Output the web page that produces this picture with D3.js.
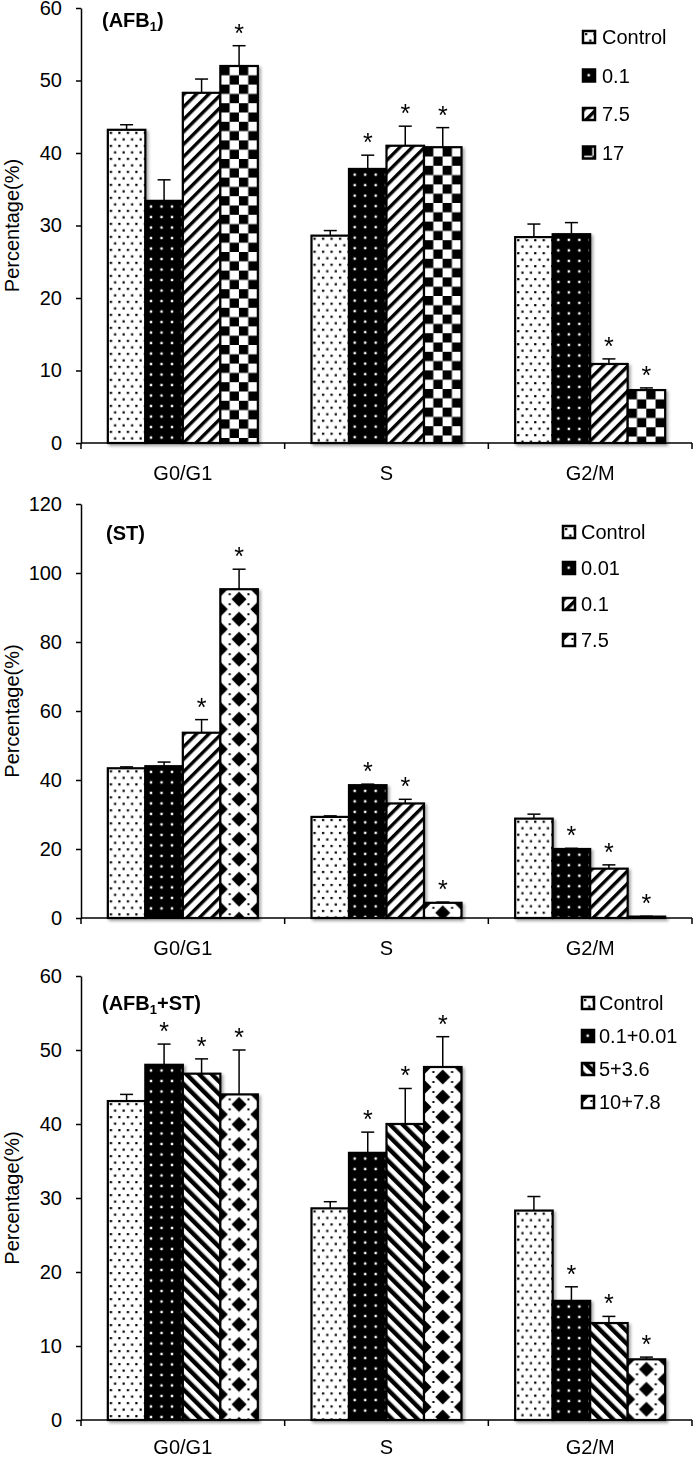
<!DOCTYPE html>
<html><head><meta charset="utf-8">
<script src="https://cdn.jsdelivr.net/npm/d3@7"></script>
<style>
body{margin:0;background:#fff}
svg{display:block}
text{font-family:"Liberation Sans",Arial,Helvetica,sans-serif;fill:#000}
</style>
</head><body>
<svg id="c" width="696" height="1458"></svg>
<script>
// ---------------- DATA ----------------
const categories = ["G0/G1", "S", "G2/M"];

const afbSeries = ["Control", "0.1", "7.5", "17"];
const afbValues = [[43.2, 33.4, 48.3, 52.0], [28.6, 37.8, 41.0, 40.8], [28.4, 28.8, 10.9, 7.3]];
const afbErrors = [[0.7, 2.9, 1.9, 2.8], [0.7, 1.9, 2.7, 2.7], [1.8, 1.6, 0.7, 0.3]];
const afbStars  = [[0, 0, 0, 1], [0, 1, 1, 1], [0, 0, 1, 1]];
const afbTicks  = [0, 10, 20, 30, 40, 50, 60];

const stSeries = ["Control", "0.01", "0.1", "7.5"];
const stValues = [[43.4, 44.0, 53.7, 95.3], [29.3, 38.5, 33.2, 4.4], [28.8, 20.0, 14.3, 0.4]];
const stErrors = [[0.4, 1.2, 3.8, 5.8], [0.3, 0.3, 1.2, 0.2], [1.3, 0.2, 1.1, 0.1]];
const stStars  = [[0, 0, 1, 1], [0, 1, 1, 1], [0, 1, 1, 1]];
const stTicks  = [0, 20, 40, 60, 80, 100, 120];

const mixSeries = ["Control", "0.1+0.01", "5+3.6", "10+7.8"];
const mixValues = [[43.1, 48.0, 46.8, 44.0], [28.6, 36.1, 40.0, 47.7], [28.3, 16.1, 13.1, 8.2]];
const mixErrors = [[0.9, 2.8, 2.0, 6.0], [0.9, 2.8, 4.8, 4.1], [1.9, 1.9, 0.9, 0.3]];
const mixStars  = [[0, 1, 1, 1], [0, 1, 1, 1], [0, 1, 1, 1]];
const mixTicks  = [0, 10, 20, 30, 40, 50, 60];

const yLabel = "Percentage(%)";

// ---------------- STYLE / LAYOUT ----------------
const svg = d3.select("#c");
const defs = svg.append("defs");

const f = defs.append("filter").attr("id", "shadow").attr("x", "-20%").attr("y", "-20%").attr("width", "150%").attr("height", "150%");
f.append("feDropShadow").attr("dx", 2).attr("dy", 2).attr("stdDeviation", 1.4)
  .attr("flood-color", "#000").attr("flood-opacity", 0.35);

function pat(id, w, h, build, transform) {
  const p = defs.append("pattern").attr("id", id).attr("patternUnits", "userSpaceOnUse")
    .attr("width", w).attr("height", h);
  if (transform) p.attr("patternTransform", transform);
  build(p);
}
pat("dots", 8.5, 13, p => {
  p.append("rect").attr("width", 8.5).attr("height", 13).attr("fill", "#fff");
  p.append("rect").attr("x", 2).attr("y", 2).attr("width", 2.2).attr("height", 2.2).attr("fill", "#000");
  p.append("rect").attr("x", 6.2).attr("y", 8.5).attr("width", 2.2).attr("height", 2.2).attr("fill", "#000");
});
pat("blackdots", 10.5, 10.5, p => {
  p.append("rect").attr("width", 10.5).attr("height", 10.5).attr("fill", "#000");
  p.append("rect").attr("x", 4.5).attr("y", 4.5).attr("width", 2.4).attr("height", 2.4).attr("fill", "#fff");
});
pat("diagUp", 8.8, 8.8, p => {
  p.append("rect").attr("width", 8.8).attr("height", 8.8).attr("fill", "#fff");
  p.append("rect").attr("x", 0).attr("width", 3.4).attr("height", 8.8).attr("fill", "#000");
}, "rotate(45)");
pat("diagDown", 9, 9, p => {
  p.append("rect").attr("width", 9).attr("height", 9).attr("fill", "#fff");
  p.append("rect").attr("x", 0).attr("width", 4.4).attr("height", 9).attr("fill", "#000");
}, "rotate(-45)");
pat("checker", 18.6, 18.6, p => {
  p.append("rect").attr("width", 18.6).attr("height", 18.6).attr("fill", "#fff");
  p.append("rect").attr("x", 0).attr("y", 0).attr("width", 9.3).attr("height", 9.3).attr("fill", "#000");
  p.append("rect").attr("x", 9.3).attr("y", 9.3).attr("width", 9.3).attr("height", 9.3).attr("fill", "#000");
});
pat("diamond", 37.5, 20, p => {
  p.append("rect").attr("width", 37.5).attr("height", 20).attr("fill", "#fff");
  const r = 7.5;
  const dia = (cx, cy) => `M${cx},${cy - r}L${cx + r},${cy}L${cx},${cy + r}L${cx - r},${cy}Z`;
  [[0, 0], [37.5, 0], [0, 20], [37.5, 20], [18.75, 10]].forEach(([cx, cy]) =>
    p.append("path").attr("d", dia(cx, cy)).attr("fill", "#000"));
  [[9.4, 5], [28.1, 5], [9.4, 15], [28.1, 15]].forEach(([cx, cy]) =>
    p.append("rect").attr("x", cx - 1).attr("y", cy - 1).attr("width", 2).attr("height", 2).attr("fill", "#000"));
});

const panels = [
  { title: ["(AFB", "1", ")"], series: afbSeries, values: afbValues, errors: afbErrors, stars: afbStars,
    ticks: afbTicks, top: 8, bottom: 443, titleX: 102, titleY: 27, labelDy: 37,
    patterns: ["dots", "blackdots", "diagUp", "checker"],
    leg: { sx: 583, tx: 602, y0: 37, dy: 38.5 } },
  { title: ["(ST)"], series: stSeries, values: stValues, errors: stErrors, stars: stStars,
    ticks: stTicks, top: 504, bottom: 918, titleX: 106, titleY: 540, labelDy: 37,
    patterns: ["dots", "blackdots", "diagUp", "diamond"],
    leg: { sx: 563, tx: 581, y0: 532, dy: 36 } },
  { title: ["(AFB", "1", "+ST)"], series: mixSeries, values: mixValues, errors: mixErrors, stars: mixStars,
    ticks: mixTicks, top: 976, bottom: 1420, titleX: 102, titleY: 1010, labelDy: 34,
    patterns: ["dots", "blackdots", "diagDown", "diamond"],
    leg: { sx: 582, tx: 599, y0: 1003, dy: 33 } }
];

const xLeft = 81, xRight = 692, groupW = 150;

panels.forEach(P => {
  const g = svg.append("g");
  const x0 = d3.scaleBand().domain(categories).range([xLeft, xRight]).padding(0);
  const x1 = d3.scaleBand().domain(P.series).range([0, groupW]).padding(0);
  const off = (x0.bandwidth() - groupW) / 2;
  const y = d3.scaleLinear().domain([0, d3.max(P.ticks)]).range([P.bottom, P.top]);

  // bars
  const barsG = g.append("g").attr("filter", "url(#shadow)");
  categories.forEach((c, ci) => {
    P.series.forEach((s, si) => {
      const v = P.values[ci][si];
      const bx = x0(c) + off + x1(s);
      const bg = barsG.append("g").attr("transform", `translate(${bx},${y(v)})`);
      bg.append("rect").attr("x", 0).attr("y", 0).attr("width", x1.bandwidth())
        .attr("height", Math.max(0, P.bottom - y(v)))
        .attr("fill", `url(#${P.patterns[si]})`).attr("stroke", "#000").attr("stroke-width", 2.2);
    });
  });

  // error bars and stars
  categories.forEach((c, ci) => {
    P.series.forEach((s, si) => {
      const v = P.values[ci][si], e = P.errors[ci][si];
      const cx = x0(c) + off + x1(s) + x1.bandwidth() / 2;
      const yt = y(v + e);
      g.append("line").attr("x1", cx).attr("x2", cx).attr("y1", y(v)).attr("y2", yt)
        .attr("stroke", "#000").attr("stroke-width", 1.5);
      g.append("line").attr("x1", cx - 6.5).attr("x2", cx + 6.5).attr("y1", yt).attr("y2", yt)
        .attr("stroke", "#000").attr("stroke-width", 1.5);
      if (P.stars[ci][si]) {
        g.append("text").attr("x", cx).attr("y", yt - 4).attr("text-anchor", "middle")
          .attr("font-size", 25).text("*");
      }
    });
  });

  // y axis
  const ya = g.append("g").attr("transform", `translate(${xLeft},0)`)
    .call(d3.axisLeft(y).tickValues(P.ticks).tickSize(5).tickSizeOuter(0).tickPadding(14).tickFormat(d3.format("d")));
  ya.select(".domain").attr("stroke-width", 1.5);
  ya.selectAll(".tick line").attr("stroke-width", 1.5);
  ya.selectAll("text").attr("font-size", 20).attr("font-family", "'Liberation Sans',Arial,sans-serif");

  // x axis
  g.append("line").attr("x1", xLeft).attr("x2", xRight).attr("y1", P.bottom).attr("y2", P.bottom)
    .attr("stroke", "#000").attr("stroke-width", 1.5);
  const bounds = categories.map(c => x0(c)).concat([xRight]);
  bounds.forEach(bx => g.append("line").attr("x1", bx).attr("x2", bx).attr("y1", P.bottom).attr("y2", P.bottom + 6)
    .attr("stroke", "#000").attr("stroke-width", 1.5));
  categories.forEach(c => g.append("text").attr("x", x0(c) + x0.bandwidth() / 2).attr("y", P.bottom + P.labelDy)
    .attr("text-anchor", "middle").attr("font-size", 20).text(c));

  // y label
  const ym = (P.top + P.bottom) / 2;
  g.append("text").attr("transform", `translate(19,${ym}) rotate(-90)`).attr("text-anchor", "middle")
    .attr("font-size", 20).text(yLabel);

  // title
  const t = g.append("text").attr("x", P.titleX).attr("y", P.titleY).attr("font-size", 20).attr("font-weight", "bold");
  if (P.title.length === 1) t.text(P.title[0]);
  else {
    t.append("tspan").text(P.title[0]);
    t.append("tspan").attr("font-size", 13).attr("dy", 4).text(P.title[1]);
    t.append("tspan").attr("dy", -4).text(P.title[2]);
  }

  // legend
  P.series.forEach((s, si) => {
    const ly = P.leg.y0 + si * P.leg.dy;
    const lg = g.append("g").attr("transform", `translate(${P.leg.sx},${ly - 6})`);
    lg.append("rect").attr("width", 12).attr("height", 12).attr("fill", `url(#${P.patterns[si]})`)
      .attr("stroke", "#000").attr("stroke-width", 2.5);
    g.append("text").attr("x", P.leg.tx).attr("y", ly + 7).attr("font-size", 20).text(s);
  });
});
</script>
</body></html>
